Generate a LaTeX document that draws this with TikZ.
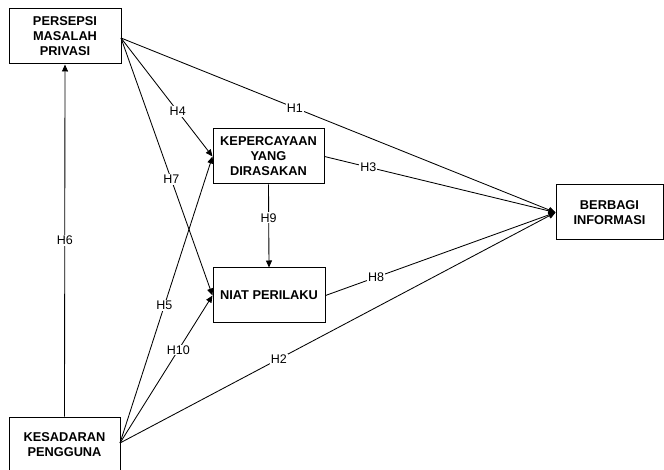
\documentclass[tikz,border=0pt]{standalone}
\usepackage{fontspec}
\setmainfont{Liberation Sans}
\usetikzlibrary{arrows.meta}
\begin{document}
\begin{tikzpicture}[x=1pt,y=-1pt,
  box/.style={draw,line width=1pt,minimum width=#1,align=center,font=\fontsize{12.8}{15}\selectfont\bfseries,inner sep=0pt},
  lab/.style={fill=white,inner sep=1pt,font=\fontsize{12.5}{14}\selectfont},
  arr/.style={draw,line width=0.85pt,-{Triangle[width=6pt,length=7pt]}}]
\useasboundingbox (0,0) rectangle (664,470);
\node[box=112pt,minimum height=55pt] (ppm) at (65,36.5) {PERSEPSI\\MASALAH\\PRIVASI};
\node[box=111pt,minimum height=56pt] (kp) at (64.5,445) {KESADARAN\\PENGGUNA};
\node[box=111pt,minimum height=55pt] (kyd) at (268.5,156.5) {KEPERCAYAAN\\YANG\\DIRASAKAN};
\node[box=112pt,minimum height=55pt] (np) at (269,295.5) {NIAT PERILAKU};
\node[box=107pt,minimum height=55pt] (bi) at (609.5,212.5) {BERBAGI\\INFORMASI};
\coordinate (ppmR) at (121,38);
\coordinate (kpR) at (120,443);
\path[arr] (ppmR) -- (bi.west) node[lab,pos=0.4] {H1};
\path[arr] (ppmR) -- (kyd.west) node[lab,pos=0.62] {H4};
\path[arr] (ppmR) -- (np.west) node[lab,pos=0.55] {H7};
\path[arr] (kyd.east) -- (bi.west) node[lab,pos=0.19] {H3};
\path[arr] (kyd.south) -- (np.north) node[lab,pos=0.4] {H9};
\path[arr] (kp.north) -- (ppm.south) node[lab,pos=0.5] {H6};
\path[arr] (kpR) -- (kyd.west) node[lab,pos=0.48] {H5};
\path[arr] (kpR) -- (np.west) node[lab,pos=0.63] {H10};
\path[arr] (np.east) -- (bi.west) node[lab,pos=0.22] {H8};
\path[arr] (kpR) -- (bi.west) node[lab,pos=0.365] {H2};
\end{tikzpicture}
\end{document}
